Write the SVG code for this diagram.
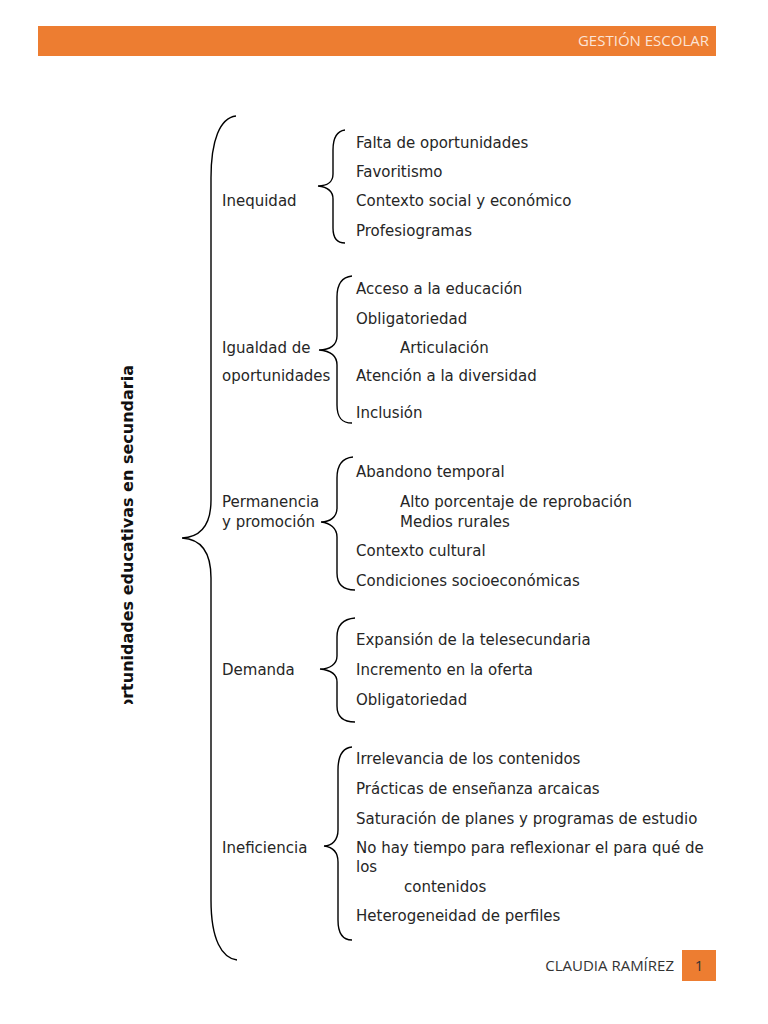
<svg xmlns="http://www.w3.org/2000/svg" width="768" height="1024" viewBox="0 0 768 1024">
<style>
.t{font-family:"DejaVu Sans",sans-serif;font-size:15px;fill:#262626}
.b{fill:none;stroke:#000;stroke-width:1.4}
.hdr{font-family:"Open Sans","Liberation Sans",sans-serif;font-size:15px;fill:#FCE4D6}
.ftr{font-family:"Open Sans","Liberation Sans",sans-serif;font-size:15px;fill:#333}
</style>
<defs>
<clipPath id="tc"><rect x="100" y="340" width="60" height="364"/></clipPath>
</defs>
<rect width="768" height="1024" fill="#fff"/>
<g id="header">
<rect x="38" y="26" width="678" height="30" fill="#ED7D31"/>
<text class="hdr" x="709" y="46" text-anchor="end">GESTIÓN ESCOLAR</text>
</g>
<g id="title" clip-path="url(#tc)">
<text transform="translate(133,365) rotate(-90)" text-anchor="end" style="font-family:'DejaVu Sans',sans-serif;font-size:16px;font-weight:bold;fill:#111">Oportunidades educativas en secundaria</text>
</g>
<g id="connectors">
<path class="b" d="M236,116 C220,118 211,140 211,178 L211,500 C211,524 201,537 182,538 C201,539 211,552 211,578 L211,900 C211,940 222,958 237,960"/>
<path class="b" d="M345,130 C337,131 333,137 333,150 L333,174 C333,182 327,186 318,186 C327,187 333,191 333,199 L333,228 C333,238 337,243 345,243"/>
<path class="b" d="M352,276 C342,277 337,284 337,297 L337,336 C337,345 330,350 319,350 C330,351 337,356 337,365 L337,405 C337,418 342,423 352,423"/>
<path class="b" d="M353,457 C342,458 337,465 337,478 L337,508 C337,517 330,522 321,522 C330,523 337,528 337,537 L337,573 C337,585 343,590 355,590"/>
<path class="b" d="M355,618 C343,619 337,625 337,637 L337,656 C337,664 330,669 320,669 C330,670 337,674 337,682 L337,706 C337,717 343,722 355,722"/>
<path class="b" d="M352,747 C342,748 338,756 338,770 L338,830 C338,840 332,846 324,846 C332,847 338,852 338,862 L338,920 C338,934 343,940 352,940"/>
</g>
<g id="inequidad">
<text class="t" x="222" y="206">Inequidad</text>
<text class="t" x="356" y="148">Falta de oportunidades</text>
<text class="t" x="356" y="177">Favoritismo</text>
<text class="t" x="356" y="206">Contexto social y económico</text>
<text class="t" x="356" y="236">Profesiogramas</text>
</g>
<g id="igualdad">
<text class="t" x="222" y="353">Igualdad de</text>
<text class="t" x="222" y="381">oportunidades</text>
<text class="t" x="356" y="294">Acceso a la educación</text>
<text class="t" x="356" y="324">Obligatoriedad</text>
<text class="t" x="400" y="353">Articulación</text>
<text class="t" x="356" y="381">Atención a la diversidad</text>
<text class="t" x="356" y="418">Inclusión</text>
</g>
<g id="permanencia">
<text class="t" x="222" y="507">Permanencia</text>
<text class="t" x="222" y="527">y promoción</text>
<text class="t" x="356" y="477">Abandono temporal</text>
<text class="t" x="400" y="507">Alto porcentaje de reprobación</text>
<text class="t" x="400" y="527">Medios rurales</text>
<text class="t" x="356" y="556">Contexto cultural</text>
<text class="t" x="356" y="586">Condiciones socioeconómicas</text>
</g>
<g id="demanda">
<text class="t" x="222" y="675">Demanda</text>
<text class="t" x="356" y="645">Expansión de la telesecundaria</text>
<text class="t" x="356" y="675">Incremento en la oferta</text>
<text class="t" x="356" y="705">Obligatoriedad</text>
</g>
<g id="ineficiencia">
<text class="t" x="222" y="853">Ineficiencia</text>
<text class="t" x="356" y="764">Irrelevancia de los contenidos</text>
<text class="t" x="356" y="794">Prácticas de enseñanza arcaicas</text>
<text class="t" x="356" y="824">Saturación de planes y programas de estudio</text>
<text class="t" x="356" y="853">No hay tiempo para reflexionar el para qué de</text>
<text class="t" x="356" y="872">los</text>
<text class="t" x="404" y="892">contenidos</text>
<text class="t" x="356" y="921">Heterogeneidad de perfiles</text>
</g>
<g id="footer">
<text class="ftr" x="674" y="971" text-anchor="end">CLAUDIA RAMÍREZ</text>
<rect x="682" y="950" width="34" height="31" fill="#ED7D31"/>
<text class="ftr" x="699" y="971" text-anchor="middle">1</text>
</g>
</svg>
